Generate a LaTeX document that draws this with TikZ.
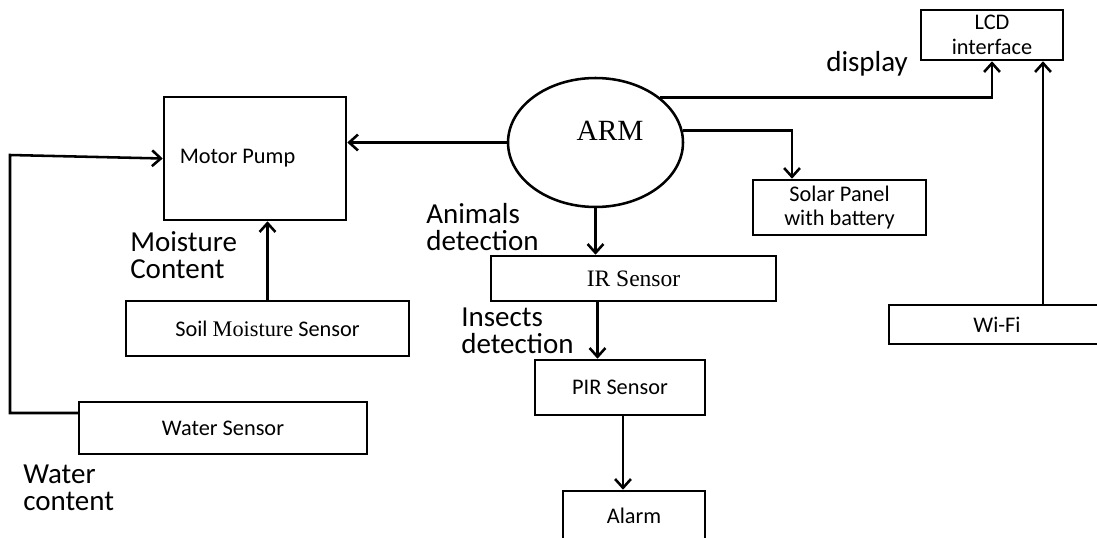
\documentclass[tikz,border=0pt]{standalone}
\usepackage{fontspec}
\setmainfont{Carlito}
\newfontfamily\serifrm{Liberation Serif}
\usetikzlibrary{arrows.meta,positioning,shapes.geometric}

\begin{document}
\begin{tikzpicture}[x=0.02cm, y=-0.02cm, line width=1.45pt,
    >={Straight Barb[length=5pt,width=9pt]},
    txt/.style={inner sep=0pt, font=\fontsize{12.7}{14}\selectfont},
    blk/.style={txt, draw, rectangle},
    note/.style={align=left, anchor=west, inner sep=0pt, font=\fontsize{16.5}{15.5}\selectfont}]
    \useasboundingbox (0,0) rectangle (1097,537);
    % blocks
    \node[draw, ellipse, minimum width=3.5cm, minimum height=2.58cm, inner sep=0pt] (arm) at (595.5,142.5) {};
    \node[font=\serifrm\fontsize{16.7}{18}\selectfont] (armtext) at (610,131) {ARM};
    \node[blk, minimum width=3.64cm, minimum height=2.46cm] (pump) at (255,158.5) {};
    \node[txt] (pumptext) at (237.5,158) {Motor Pump};
    \node[blk, minimum width=5.66cm, minimum height=1.1cm] (soil) at (267.5,328.5) {Soil {\serifrm Moisture} Sensor};
    \node[blk, minimum width=5.76cm, minimum height=1.04cm] (water) at (223,428) {Water Sensor};
    \node[blk, minimum width=5.7cm, minimum height=0.9cm, font=\serifrm\fontsize{13.4}{14}\selectfont] (ir) at (633.5,278.5) {IR Sensor};
    \node[blk, minimum width=3.4cm, minimum height=1.1cm] (pir) at (620,387.5) {PIR Sensor};
    \node[blk, minimum width=2.84cm, minimum height=1.0cm] (alarm) at (634,516) {Alarm};
    \node[blk, minimum width=3.46cm, minimum height=1.1cm, align=center] (solar) at (839.5,207.5) {Solar Panel\\with battery};
    \node[blk, minimum width=2.84cm, minimum height=1.0cm, align=center] (lcd) at (992,35) {LCD\\interface};
    \node[blk, minimum width=4.32cm, minimum height=0.78cm] (wifi) at (997,324.5) {Wi-Fi};
    % labels
    \node[note] (moist) at (129,255) {Moisture\\Content};
    \node[note] (animals) at (425,227) {Animals\\detection};
    \node[note] (insects) at (460,331) {Insects\\detection};
    \node[note] (wcont) at (22,487.5) {Water\\content};
    \node[note] (disp) at (825,64) {display};
    % connections
    \coordinate (feed) at (10,155);
    \draw[->] (arm.west) -- (arm.west -| pump.east);
    \draw[->] ([yshift=0.3cm]water.west) -| (feed) -- (pump.west);
    \draw[->] (soil.north) -- (soil.north |- pump.south);
    \draw[->] (arm.south) -- (arm.south |- ir.north);
    \draw[->] ([xshift=0.04cm]ir.south -| arm.south) -- ([xshift=0.04cm]pir.north -| arm.south);
    \draw[->] ([xshift=0.06cm]pir.south) -- ([xshift=0.06cm]pir.south |- alarm.north);
    \draw[->] (arm.8) -| ([xshift=-0.95cm]solar.north);
    \draw[->] (arm.35) -| (lcd.south);
    \draw[->] ([xshift=0.92cm]wifi.north) -- ([xshift=0.92cm]wifi.north |- lcd.south);
\end{tikzpicture}
\end{document}
